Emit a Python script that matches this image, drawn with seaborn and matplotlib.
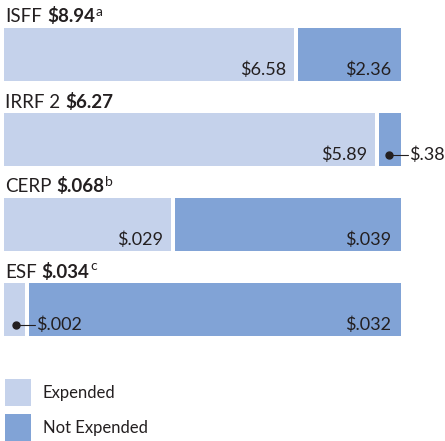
import matplotlib
matplotlib.use("Agg")
import matplotlib.pyplot as plt
import matplotlib.transforms as mtransforms
from matplotlib.patches import Patch
import numpy as np
import pandas as pd
import seaborn as sns

# funds, values in $ billions
funds = ["ISFF", "IRRF 2", "CERP", "ESF"]
totals = ["$8.94", "$6.27", "$.068", "$.034"]
notes = ["a", "", "b", "c"]
expended = [6.58, 5.89, 0.029, 0.002]
not_expended = [2.36, 0.38, 0.039, 0.032]
exp_labels = ["$6.58", "$5.89", "$.029", "$.002"]
notexp_labels = ["$2.36", "$.38", "$.039", "$.032"]
# segments too thin for an inside label get a dot + leader line
callout = [None, "not", None, "exp"]

LIGHT = "#c5d2eb"
DARK = "#81a3d6"
INK = "#231f20"

sns.set_theme(style="white")
plt.rcParams["font.family"] = ["Lato", "DejaVu Sans"]
plt.rcParams["text.parse_math"] = False

df = pd.DataFrame({"fund": funds, "exp": expended, "notexp": not_expended})
df["total"] = df["exp"] + df["notexp"]
df["exp_share"] = df["exp"] / df["total"]
df["whole"] = 1.0

W, H = 445, 441
fig = plt.figure(figsize=(W / 100, H / 100), dpi=100)
ax = fig.add_axes([0, 0, 1, 1])

bar_h = 53 / 85
sns.barplot(data=df, x="whole", y="fund", color=DARK, saturation=1, width=bar_h,
            linewidth=0, errorbar=None, ax=ax)
sns.barplot(data=df, x="exp_share", y="fund", color=LIGHT, saturation=1, width=bar_h,
            linewidth=0, errorbar=None, ax=ax)

# axes spans whole figure: bar length 0..1 -> 397 px, row pitch 85 px
ax.set_xlim(-4 / 397, (W - 4) / 397)
ax.set_ylim((H - 54.5) / 85, -54.5 / 85)
ax.axis("off")
px_x = 1 / 397
px_y = 1 / 85

ypos = np.arange(len(funds))
ax.vlines(df["exp_share"], ypos - bar_h / 2, ypos + bar_h / 2, colors="white", linewidth=2.9)

lab_fs = 13
for i, row in df.iterrows():
    bottom = i + bar_h / 2
    base = bottom - 6 * px_y
    share = row["exp_share"]
    if callout[i] != "exp":
        ax.text(share - 10 * px_x, base, exp_labels[i], ha="right", va="baseline",
                fontsize=lab_fs, color=INK)
    if callout[i] != "not":
        ax.text(1 - 10 * px_x, base, notexp_labels[i], ha="right", va="baseline",
                fontsize=lab_fs, color=INK)
    if callout[i] is not None:
        if callout[i] == "exp":
            cx, lab = share / 2, exp_labels[i]
        else:
            cx, lab = (share + 1) / 2, notexp_labels[i]
        cy = bottom - 11.5 * px_y
        ax.plot([cx, cx + 19 * px_x], [cy, cy], color=INK, lw=0.8)
        ax.plot(cx, cy, "o", ms=5, color=INK)
        ax.text(cx + 20 * px_x, base, lab, ha="left", va="baseline",
                fontsize=lab_fs, color=INK, clip_on=False)

# titles: name + bold total + superscript note
fig.canvas.draw()
renderer = fig.canvas.get_renderer()
for i in range(len(funds)):
    yb = i - bar_h / 2 - 5.5 * px_y
    t1 = ax.text(px_x, yb, funds[i], fontsize=13.5, va="baseline", color=INK)
    w1 = t1.get_window_extent(renderer).width
    tr2 = mtransforms.offset_copy(ax.transData, fig, x=w1 + 5, y=0, units="dots")
    t2 = ax.text(px_x, yb, totals[i], fontsize=13.5, fontweight="bold", va="baseline",
                 color=INK, transform=tr2)
    w2 = t2.get_window_extent(renderer).width
    if notes[i]:
        tr3 = mtransforms.offset_copy(ax.transData, fig, x=w1 + 5 + w2 + 1, y=7, units="dots")
        ax.text(px_x, yb, notes[i], fontsize=10, va="baseline", color=INK, transform=tr3)

handles = [Patch(facecolor=LIGHT, linewidth=0, label="Expended"),
           Patch(facecolor=DARK, linewidth=0, label="Not Expended")]
fig.legend(handles=handles, loc="upper left", bbox_to_anchor=(5 / W, 1 - 379 / H),
           frameon=False, fontsize=12, handlelength=1.56, handleheight=2.13,
           handletextpad=0.72, labelspacing=0.48, borderpad=0, borderaxespad=0,
           labelcolor=INK)

fig.savefig("out.png", dpi=100)
